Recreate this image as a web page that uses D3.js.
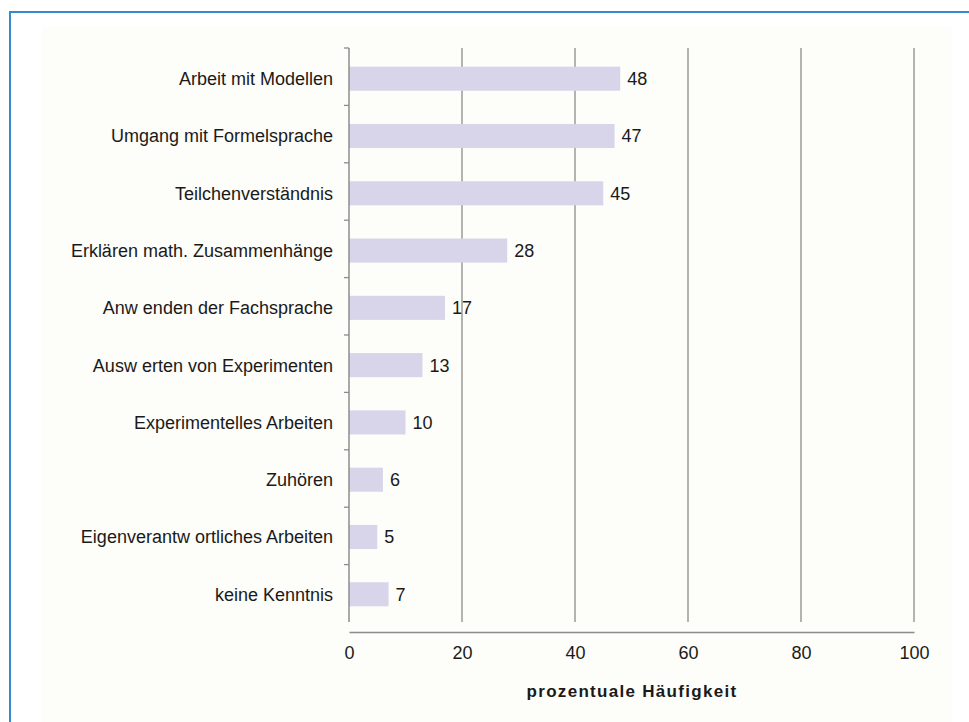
<!DOCTYPE html>
<html><head><meta charset="utf-8">
<script src="https://cdn.jsdelivr.net/npm/d3@7"></script>
<style>body{margin:0;background:#fff}svg{display:block}text{font-family:Arial,"Liberation Sans",sans-serif;fill:#1a1a1a}</style>
</head><body><svg id="c" width="969" height="722"></svg>
<script>
const categories = ["Arbeit mit Modellen","Umgang mit Formelsprache","Teilchenverständnis","Erklären math. Zusammenhänge","Anw enden der Fachsprache","Ausw erten von Experimenten","Experimentelles Arbeiten","Zuhören","Eigenverantw ortliches Arbeiten","keine Kenntnis"];
const values = [48,47,45,28,17,13,10,6,5,7];
const xTicks = [0,20,40,60,80,100];
const axisTitle = "prozentuale Häufigkeit";

const svg = d3.select("#c");
svg.append("rect").attr("x",42).attr("y",27).attr("width",910).attr("height",695).attr("fill","#fdfdf9");
svg.append("path").attr("d","M10,722 V12 H969").attr("fill","none").attr("stroke","#3a88cf").attr("stroke-width",2);

const x = d3.scaleLinear().domain([0,100]).range([349,914]);
const y = d3.scaleBand().domain(categories).range([48,622]).paddingInner(0.58).paddingOuter(0.3);
const bandEdges = d3.range(categories.length+1).map(i => 48 + i*(574/categories.length));

// gridlines
svg.append("g").selectAll("line").data(xTicks.slice(1)).join("line")
  .attr("x1",d=>x(d)).attr("x2",d=>x(d)).attr("y1",48).attr("y2",622)
  .attr("stroke","#8c8c8c").attr("stroke-width",1.3);

// bars
svg.append("g").selectAll("rect").data(values).join("rect")
  .attr("x",x(0)).attr("y",(d,i)=>y(categories[i])+1.5).attr("height",y.bandwidth())
  .attr("width",d=>x(d)-x(0)).attr("fill","#d8d4ea");

// value labels
svg.append("g").selectAll("text").data(values).join("text")
  .attr("x",d=>x(d)+7).attr("y",(d,i)=>y(categories[i])+1.5+y.bandwidth()/2).attr("dy","0.36em")
  .attr("font-size",18).text(d=>d);

// category labels
svg.append("g").selectAll("text").data(categories).join("text")
  .attr("x",333).attr("y",d=>y(d)+1.5+y.bandwidth()/2).attr("dy","0.36em")
  .attr("text-anchor","end").attr("font-size",18).text(d=>d);

// y axis
svg.append("line").attr("x1",349).attr("x2",349).attr("y1",48).attr("y2",622).attr("stroke","#8c8c8c").attr("stroke-width",1.5);
svg.append("g").selectAll("line").data(bandEdges.slice(0,-1)).join("line")
  .attr("x1",344).attr("x2",349).attr("y1",d=>d).attr("y2",d=>d).attr("stroke","#8c8c8c").attr("stroke-width",1.3);

// x axis
const xAxis = svg.append("g").attr("transform","translate(0,632)")
  .call(d3.axisBottom(x).tickValues(xTicks).tickSize(0).tickPadding(14));
xAxis.select(".domain").attr("stroke","#8c8c8c").attr("stroke-width",1.5);
xAxis.selectAll("text").attr("font-size",18).attr("fill","#1a1a1a").attr("font-family","Arial, 'Liberation Sans', sans-serif");

svg.append("text").attr("x",632).attr("y",697).attr("text-anchor","middle")
  .attr("font-size",17).attr("font-weight","bold").attr("letter-spacing","1.3px").text(axisTitle);
</script></body></html>
